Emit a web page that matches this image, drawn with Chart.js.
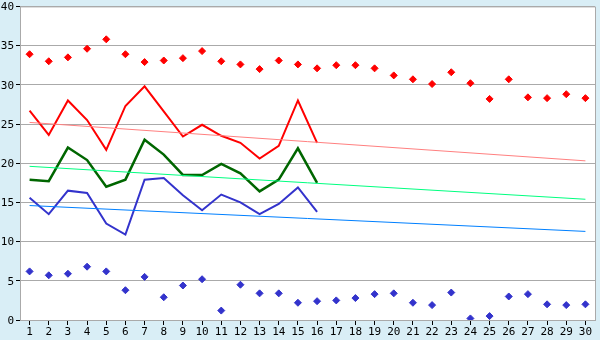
<!DOCTYPE html>
<html>
<head>
<meta charset="utf-8">
<script src="https://cdn.jsdelivr.net/npm/chart.js@4/dist/chart.umd.min.js"></script>
<style>
  html, body { margin: 0; padding: 0; background: #d9eef6; }
  #wrap { width: 600px; height: 340px; }
</style>
</head>
<body>
<div id="wrap"><canvas id="chart" width="600" height="340"></canvas></div>
<script>
// Categories 1..30
var labels = ['1','2','3','4','5','6','7','8','9','10','11','12','13','14','15',
              '16','17','18','19','20','21','22','23','24','25','26','27','28','29','30'];

// Upper red markers
var redPoints = [33.9, 33.0, 33.5, 34.6, 35.8, 33.9, 32.9, 33.1, 33.4, 34.3,
                 33.0, 32.6, 32.0, 33.1, 32.6, 32.1, 32.5, 32.5, 32.1, 31.2,
                 30.7, 30.1, 31.6, 30.2, 28.2, 30.7, 28.4, 28.3, 28.8, 28.3];

// Lower blue markers
var bluePoints = [6.2, 5.7, 5.9, 6.8, 6.2, 3.8, 5.5, 2.9, 4.4, 5.2,
                  1.2, 4.5, 3.4, 3.4, 2.2, 2.4, 2.5, 2.8, 3.3, 3.4,
                  2.2, 1.9, 3.5, 0.2, 0.5, 3.0, 3.3, 2.0, 1.9, 2.0];

// Lines (first 16 categories only)
var redLine   = [26.7, 23.6, 28.0, 25.5, 21.7, 27.3, 29.8, 26.6, 23.4, 24.9, 23.5, 22.6, 20.6, 22.2, 28.0, 22.6];
var greenLine = [17.9, 17.7, 22.0, 20.4, 17.0, 17.9, 23.0, 21.1, 18.5, 18.5, 19.9, 18.7, 16.4, 17.9, 21.9, 17.5];
var blueLine  = [15.6, 13.5, 16.5, 16.2, 12.3, 10.9, 17.9, 18.1, 15.9, 14.0, 16.0, 15.0, 13.5, 14.8, 16.9, 13.8];

// Trend lines: value at first and last category
var redTrend   = [25.2, 20.3];
var greenTrend = [19.6, 15.4];
var blueTrend  = [14.6, 11.3];

function ends(v) {
    return [{ x: labels[0], y: v[0] }, { x: labels[labels.length - 1], y: v[1] }];
}

// Paint the plot area white and draw its border
var plotBg = {
    id: 'plotBg',
    beforeDraw: function(chart) {
        var a = chart.chartArea, ctx = chart.ctx;
        ctx.save();
        ctx.fillStyle = '#ffffff';
        ctx.fillRect(a.left, a.top, a.right - a.left, a.bottom - a.top);
        ctx.restore();
    },
    afterDraw: function(chart) {
        var a = chart.chartArea, ctx = chart.ctx;
        ctx.save();
        ctx.strokeStyle = '#aaaaaa';
        ctx.lineWidth = 1;
        ctx.beginPath();
        ctx.moveTo(a.left, a.top + 0.5);
        ctx.lineTo(a.right + 0.5, a.top + 0.5);
        ctx.lineTo(a.right + 0.5, a.bottom);
        ctx.stroke();
        ctx.restore();
    }
};

var ctx = document.getElementById('chart').getContext('2d');
new Chart(ctx, {
    type: 'line',
    data: {
        labels: labels,
        datasets: [
            { data: ends(redTrend), borderColor: '#ff8080', borderWidth: 1, pointRadius: 0 },
            { data: ends(greenTrend), borderColor: '#00ff80', borderWidth: 1, pointRadius: 0 },
            { data: ends(blueTrend), borderColor: '#0080ff', borderWidth: 1, pointRadius: 0 },
            { data: redLine, borderColor: '#ff0000', borderWidth: 2, pointRadius: 0 },
            { data: greenLine, borderColor: '#006600', borderWidth: 2.5, pointRadius: 0 },
            { data: blueLine, borderColor: '#3333cc', borderWidth: 2, pointRadius: 0 },
            { data: redPoints, showLine: false, pointStyle: 'rectRot', pointRadius: 3.5,
              backgroundColor: '#ff0000', borderColor: '#ff0000', borderWidth: 1 },
            { data: bluePoints, showLine: false, pointStyle: 'rectRot', pointRadius: 3.5,
              backgroundColor: '#3333cc', borderColor: '#3333cc', borderWidth: 1 }
        ]
    },
    options: {
        responsive: false,
        animation: false,
        events: [],
        layout: { padding: { top: 5, right: 5, left: 0, bottom: 0 } },
        elements: { line: { tension: 0 } },
        plugins: { legend: { display: false }, tooltip: { enabled: false } },
        scales: {
            x: {
                offset: true,
                afterFit: function(s) { s.height = 20; },
                border: { color: '#aaaaaa' },
                grid: { offset: false, drawOnChartArea: false, drawTicks: true, tickLength: 5, color: '#000000' },
                ticks: { color: '#000000', padding: 1, maxRotation: 0, autoSkip: false,
                         font: { family: 'DejaVu Sans Mono', size: 11 } }
            },
            y: {
                min: 0,
                max: 40,
                afterFit: function(s) { s.width = 20; },
                border: { color: '#aaaaaa' },
                grid: { color: '#aaaaaa', tickLength: 4, tickColor: '#000000' },
                ticks: { stepSize: 5, color: '#000000', padding: 2, labelOffset: 1,
                         font: { family: 'DejaVu Sans Mono', size: 11, lineHeight: 0.8 } }
            }
        }
    },
    plugins: [plotBg]
});
</script>
</body>
</html>
